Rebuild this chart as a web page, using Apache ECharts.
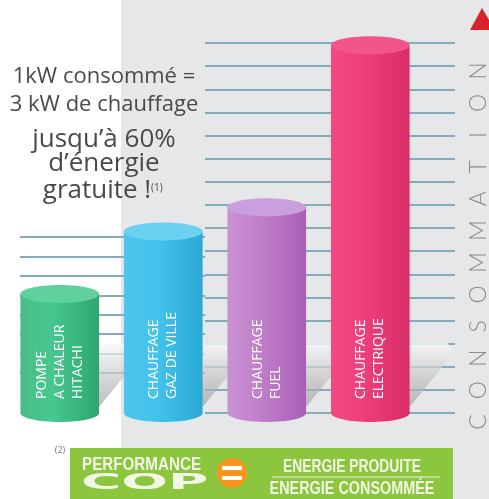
<!DOCTYPE html>
<html>
<head>
<meta charset="utf-8">
<script src="https://cdn.jsdelivr.net/npm/echarts@6/dist/echarts.min.js"></script>
<style>
  html, body { margin: 0; padding: 0; background: #fff; }
  #charts { width: 489px; height: 499px; }
</style>
</head>
<body>
<div id="charts"></div>
<script>
// données du graphique
const categories = ['POMPE\nA CHALEUR\nHITACHI', 'CHAUFFAGE\nGAZ DE VILLE', 'CHAUFFAGE\nFUEL', 'CHAUFFAGE\nELECTRIQUE']
const consommation = [5.15, 7.85, 8.9, 15.9]
const axisLetters = ['C', 'O', 'N', 'S', 'O', 'M', 'M', 'A', 'T', 'I', 'O', 'N']
const headline = ['1kW consommé =', '3 kW de chauffage']
const promise = ['jusqu’à 60%', 'd’énergie']

// couleurs des cylindres
const palette = [
    { edge: '#49bd88', light: '#47c790', dark: '#2fa66f', top: '#5fd09e' },
    { edge: '#4cc4ec', light: '#44c3ed', dark: '#2aa9d6', top: '#6cd0f1' },
    { edge: '#c992d2', light: '#c17fca', dark: '#a95fb6', top: '#c9a0dd' },
    { edge: '#ef4a84', light: '#ef3f7c', dark: '#d92d68', top: '#f1558b' }
]

const renderCylinder = (params, api) => {
    const i = api.value(0)
    const top = api.coord([i, api.value(1)])
    const base = api.coord([i, 0])
    const w = api.size([1, 0])[0] * 0.76
    const ry = 9
    const c = palette[i]
    const xr = base[0] + w / 2
    const grad = new echarts.graphic.LinearGradient(0, 0, 1, 0, [
        { offset: 0, color: c.edge },
        { offset: 0.4, color: c.light },
        { offset: 1, color: c.dark }
    ])
    const shade = new echarts.graphic.LinearGradient(0, 0, 0, 1, [
        { offset: 0, color: 'rgba(250,250,250,0.75)' },
        { offset: 1, color: 'rgba(150,150,150,0.6)' }
    ])
    return {
        type: 'group',
        children: [
            {
                type: 'polygon',
                shape: { points: [[xr - 4, base[1] - 70], [xr + 38, base[1] - 70], [xr + 44, base[1] - 60], [xr, base[1] - 6]] },
                style: { fill: shade }
            },
            { type: 'ellipse', shape: { cx: base[0], cy: base[1], rx: w / 2, ry: ry }, style: { fill: grad } },
            { type: 'rect', shape: { x: top[0] - w / 2, y: top[1], width: w, height: base[1] - top[1] }, style: { fill: grad } },
            { type: 'ellipse', shape: { cx: top[0], cy: top[1], rx: w / 2, ry: ry }, style: { fill: c.top } },
            {
                type: 'text', x: base[0], y: base[1] - 14, rotation: Math.PI / 2,
                style: { text: categories[i], fill: '#fff', font: '14px "Open Sans"', align: 'left', verticalAlign: 'middle', lineHeight: 18 }
            }
        ]
    }
}

const hiddenX = (gridIndex, type) => ({ gridIndex, type, show: false, min: 0, max: 1 })
const lineAxis = (gridIndex, max) => ({
    gridIndex, type: 'value', min: 0, max, interval: 1,
    axisLine: { show: false }, axisTick: { show: false }, axisLabel: { show: false },
    splitLine: { show: true, lineStyle: { color: '#84abb7', width: 2 } }
})

const bannerFont = 'bold 18px "Liberation Sans"'
const graphics = [
    { type: 'rect', z: -10, shape: { x: 121, y: 0, width: 368, height: 499 }, style: { fill: '#e6e7e8' } },
    { type: 'polygon', shape: { points: [[470, 30], [482, 8], [495, 30]] }, style: { fill: '#d9232a' } },
    ...headline.map((t, k) => ({
        type: 'text', x: 104, y: 77 + k * 28,
        style: { text: t, fill: '#4a4a4a', font: '22px "Open Sans"', align: 'center', verticalAlign: 'middle' }
    })),
    ...promise.map((t, k) => ({
        type: 'text', x: 104, y: 140 + k * 24,
        style: { text: t, fill: '#4a4a4a', font: '26px "Open Sans"', align: 'center', verticalAlign: 'middle' }
    })),
    {
        type: 'text', x: 97, y: 191,
        style: { text: 'gratuite !', fill: '#4a4a4a', font: '26px "Open Sans"', align: 'center', verticalAlign: 'middle' }
    },
    { type: 'text', x: 151, y: 188, style: { text: '(1)', fill: '#4a4a4a', font: '10px "Open Sans"', align: 'left', verticalAlign: 'middle' } },
    ...axisLetters.map((l, k) => ({
        type: 'text', x: 479, y: 422 - k * 31.9, rotation: Math.PI / 2,
        style: { text: l, fill: '#8c8c8c', font: '300 23px Lato', align: 'center', verticalAlign: 'middle' }
    })),
    // bandeau COP
    { type: 'text', x: 60, y: 450, style: { text: '(2)', fill: '#777', font: '9px "Open Sans"', align: 'center', verticalAlign: 'middle' } },
    { type: 'rect', z: 5, shape: { x: 70, y: 448, width: 383, height: 51 }, style: { fill: '#8cc63f' } },
    {
        type: 'text', z: 6, x: 82, y: 465, scaleX: 0.8,
        style: { text: 'PERFORMANCE', fill: '#f2f6e4', font: 'bold 19px "Liberation Sans"', align: 'left', verticalAlign: 'middle' }
    },
    {
        type: 'text', z: 6, x: 81, y: 483, scaleX: 2.5,
        style: { text: 'COP', fill: '#f2f6e4', font: 'bold 22px "DejaVu Sans"', align: 'left', verticalAlign: 'middle' }
    },
    { type: 'circle', z: 6, shape: { cx: 232, cy: 473, r: 15 }, style: { fill: '#f7941e' } },
    { type: 'rect', z: 7, shape: { x: 222, y: 466, width: 20, height: 4, r: 1 }, style: { fill: '#fff' } },
    { type: 'rect', z: 7, shape: { x: 222, y: 476, width: 20, height: 4, r: 1 }, style: { fill: '#fff' } },
    {
        type: 'text', z: 6, x: 352, y: 467, scaleX: 0.77,
        style: { text: 'ENERGIE PRODUITE', fill: '#f2f6e4', font: bannerFont, align: 'center', verticalAlign: 'middle' }
    },
    { type: 'line', z: 6, shape: { x1: 272, y1: 477, x2: 440, y2: 477 }, style: { stroke: '#eef5dc', lineWidth: 1 } },
    {
        type: 'text', z: 6, x: 352, y: 489, scaleX: 0.8,
        style: { text: 'ENERGIE CONSOMMÉE', fill: '#f2f6e4', font: bannerFont, align: 'center', verticalAlign: 'middle' }
    }
]

const myChart = echarts.init(document.getElementById('charts'))
const option = {
    animation: false,
    grid: [
        { left: 8, right: 67, top: 43, bottom: 86 },
        { left: 205, right: 34, top: 43, bottom: 86 },
        { left: 20, right: 284, top: 237, bottom: 126 }
    ],
    xAxis: [
        { gridIndex: 0, type: 'category', data: categories, show: false },
        hiddenX(1, 'value'),
        hiddenX(2, 'value')
    ],
    yAxis: [
        { gridIndex: 0, type: 'value', min: 0, max: 16, show: false },
        lineAxis(1, 16),
        lineAxis(2, 7)
    ],
    graphic: graphics,
    series: [{
        type: 'custom',
        xAxisIndex: 0,
        yAxisIndex: 0,
        z: 3,
        renderItem: renderCylinder,
        encode: { x: 0, y: 1 },
        data: consommation.map((v, i) => [i, v])
    }]
}
myChart.setOption(option)
</script>
</body>
</html>
